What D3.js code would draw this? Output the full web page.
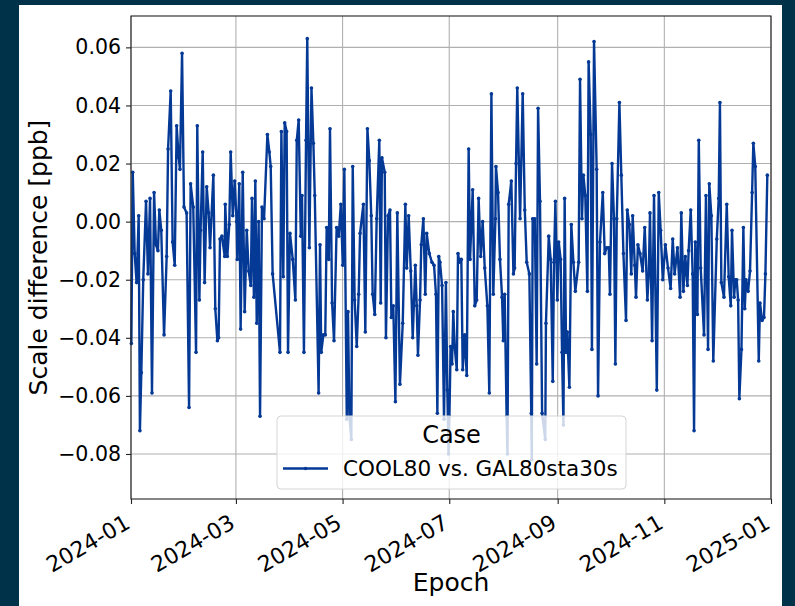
<!DOCTYPE html>
<html>
<head>
<meta charset="utf-8">
<script src="https://cdn.jsdelivr.net/npm/d3@7"></script>
<style>
  body { margin: 0; background: #003349; }
  text { font-family: "DejaVu Sans", sans-serif; fill: #000; }
</style>
</head>
<body>
<div id="chart"></div>
<script>
// data: day of 2024 (from Jan 1) and scale difference [ppb]
var epoch_days = [
    0.2, 1.0, 2.1, 3.2, 4.4, 5.1, 5.9, 7.0, 8.6, 9.7, 10.9, 12.0, 13.2, 14.3, 15.4, 16.2, 17.3, 18.9, 20.4, 21.2,
    22.7, 23.8, 25.0, 26.1, 27.3, 28.0, 29.2, 30.3, 31.8, 33.2, 34.1, 35.6, 37.2, 37.9, 39.1, 39.8, 41.0, 42.1, 43.3, 44.4,
    45.2, 47.1, 48.2, 49.4, 50.1, 50.9, 52.0, 53.6, 53.9, 55.1, 56.2, 57.0, 58.2, 59.3, 60.4,
    60.8, 61.9, 62.7, 63.9, 65.0, 66.2, 67.3, 68.5, 69.2, 70.3, 71.1, 71.9, 73.0, 73.8, 74.9, 76.1, 78.0, 79.1, 79.9, 81.0,
    85.2, 86.0, 87.1, 87.9, 89.0, 89.8, 90.9, 92.5, 94.0, 94.8, 95.9, 97.1, 97.8, 98.9, 100.1, 100.8, 102.0, 103.2, 104.3, 105.1,
    107.3, 108.1, 108.8, 110.0, 111.1, 111.9, 113.1, 113.8, 115.0, 116.1, 117.6, 118.8, 120.0, 121.1, 122.0,
    123.4, 124.1, 124.9, 126.0, 126.8, 127.9, 129.1, 130.2, 131.0, 132.9, 134.0, 135.2, 136.3, 137.4, 138.2, 139.4, 140.5, 142.0, 142.8, 143.5,
    145.1, 145.8, 147.0, 148.1, 148.9, 150.0, 151.2, 152.3, 153.8, 155.4, 156.9, 157.7, 158.8, 160.0, 161.1, 162.6, 163.4, 164.1, 165.3, 166.0,
    167.2, 168.3, 169.1, 170.6, 172.1, 173.3, 174.4, 175.2, 176.0, 176.7, 177.9, 179.0, 180.1, 180.9, 181.6,
    182.1, 182.8, 183.6, 184.3, 185.1, 186.3, 187.0, 187.8, 188.9, 189.7, 190.8, 192.0, 193.1, 193.9, 195.4, 196.6, 197.7, 198.8, 200.0, 201.1,
    202.3, 203.8, 204.9, 206.1, 207.2, 208.4, 208.7, 209.9, 211.0, 212.2, 212.9, 213.7, 214.8, 215.3, 216.0, 217.5, 218.7, 219.4, 220.2, 220.9,
    222.5, 224.0, 225.2, 226.3, 227.8, 228.9, 229.2, 229.7, 230.9, 232.0, 232.8, 233.9, 235.1, 236.9, 237.3, 238.9, 240.0, 241.2, 241.9, 242.7,
    243.8, 244.6, 245.7, 246.5, 247.3, 248.0, 248.8, 249.5, 250.7, 251.8, 253.0, 254.1, 256.0, 256.8, 257.9, 258.7, 259.8, 261.0, 261.7, 262.9,
    263.6, 264.8, 266.3, 267.1, 268.2, 269.8, 270.9, 272.0, 273.2, 273.9, 275.1, 276.2, 277.0, 277.8, 279.3, 280.4, 281.6, 283.1, 283.8, 285.0,
    286.1, 286.9, 288.1, 288.8, 289.9, 291.1, 292.6, 293.8, 295.3, 296.1, 296.8, 298.0, 299.1, 300.7, 301.8, 302.9,
    304.1, 305.6, 307.1, 308.6, 309.8, 310.9, 312.5, 314.0, 314.7, 315.9, 317.0, 318.2, 318.9, 320.1, 321.2, 322.0, 322.7, 323.9, 324.7, 325.8,
    327.7, 328.8, 330.0, 330.7, 331.9, 333.0, 335.0, 336.1, 336.8, 337.6, 339.1, 340.7, 341.8, 343.0, 343.7, 344.9, 345.6, 346.4, 347.2, 347.9,
    349.1, 350.2, 351.0, 351.7, 352.9, 354.0, 355.2, 355.9, 357.0, 359.0, 359.7, 360.9, 362.0, 362.8, 363.9
]
var scale_diff = [
    -0.042, 0.017, -0.011, -0.021, 0.002, -0.072, -0.052, -0.020, 0.007, -0.018, 0.008, -0.059, 0.010, -0.008, -0.010, 0.004, -0.003, -0.039, -0.012, 0.025,
    0.045, -0.007, -0.015, 0.033, 0.022, 0.018, 0.058, 0.005, 0.003, -0.064, 0.013, 0.005, -0.045, 0.033, -0.027, -0.003, 0.024, -0.021, 0.012, 0.003,
    -0.009, 0.016, -0.030, -0.041, -0.040, -0.006, -0.005, -0.012, 0.006, -0.012, -0.001, 0.024, 0.002, 0.014, 0.000,
    -0.013, 0.013, -0.037, 0.017, -0.031, -0.003, -0.017, -0.022, 0.008, -0.026, 0.014, -0.035, 0.000, -0.067, 0.005, 0.001, 0.030, 0.024, 0.019, -0.018,
    -0.045, 0.031, -0.019, 0.034, 0.031, -0.045, -0.004, -0.013, -0.027, 0.028, 0.035, -0.005, 0.009, -0.045, 0.028, 0.063, -0.009, 0.046, 0.027, 0.009,
    -0.059, -0.008, -0.045, -0.039, -0.039, -0.002, -0.013, 0.032, -0.028, -0.041, -0.002, -0.005, 0.006, -0.015, 0.018,
    -0.068, -0.031, -0.067, -0.075, 0.019, -0.027, -0.043, -0.025, -0.004, 0.006, -0.038, 0.032, 0.021, 0.002, -0.025, -0.032, 0.001, 0.028, -0.028, 0.022,
    0.017, -0.040, 0.002, 0.004, -0.033, -0.029, -0.062, 0.003, -0.056, -0.035, 0.006, -0.016, 0.002, -0.017, -0.040, -0.015, -0.029, -0.046, -0.027, -0.008,
    0.001, -0.025, -0.004, -0.011, -0.014, -0.015, -0.025, -0.066, -0.012, -0.014, -0.022, -0.068, -0.021, -0.058, -0.080,
    -0.067, -0.043, -0.049, -0.031, -0.043, -0.051, -0.011, -0.014, -0.013, -0.051, -0.039, -0.053, 0.025, -0.013, 0.011, -0.029, -0.027, 0.008, -0.012, 0.000,
    -0.016, -0.029, -0.059, 0.044, -0.025, 0.001, 0.019, 0.010, -0.013, -0.026, -0.041, -0.025, -0.067, -0.080, 0.006, 0.014, -0.018, -0.016, 0.020, 0.046,
    0.001, 0.044, 0.004, -0.014, -0.018, -0.066, -0.082, 0.001, 0.001, -0.049, 0.039, 0.007, -0.066, -0.075, -0.035, -0.005, -0.013, -0.055, -0.014, 0.007,
    -0.027, -0.007, -0.013, -0.045, -0.070, 0.008, -0.045, -0.038, -0.057, -0.001, -0.014, -0.024, -0.014, 0.049, 0.001, 0.016, 0.009, -0.024, 0.055, 0.030,
    -0.044, 0.062, 0.018, -0.060, -0.007, 0.010, -0.011, -0.009, -0.009, -0.025, 0.020, 0.001, -0.049, 0.001, 0.041, 0.016, -0.011, -0.034, 0.004, -0.001,
    -0.018, 0.002, -0.015, -0.026, -0.008, -0.011, -0.017, -0.002, -0.027, -0.018, 0.003, -0.041, 0.009, -0.058, 0.010, -0.003,
    -0.020, -0.008, -0.016, -0.023, -0.006, -0.018, -0.009, -0.026, 0.003, -0.024, -0.012, -0.022, -0.010, 0.004, -0.018, -0.072, -0.007, -0.032, 0.028, -0.016,
    -0.039, 0.009, -0.044, 0.013, 0.002, -0.048, -0.006, 0.008, 0.041, -0.021, -0.026, 0.006, -0.019, -0.029, -0.003, -0.026, -0.020, -0.020, -0.027, -0.061,
    -0.044, -0.002, -0.030, -0.020, -0.024, -0.017, 0.010, 0.027, 0.019, -0.048, -0.028, -0.034, -0.033, -0.018, 0.016
]
var x_ticks = ['2024-01-01', '2024-03-01', '2024-05-01', '2024-07-01', '2024-09-01', '2024-11-01', '2025-01-01']
var y_ticks = [-0.08, -0.06, -0.04, -0.02, 0.00, 0.02, 0.04, 0.06]
var series_name = 'COOL80 vs. GAL80sta30s'
var line_color = '#053996'

var fig_width = 795, fig_height = 606
var plot_left = 131, plot_right = 771, plot_top = 16, plot_bottom = 499
var start_ms = Date.UTC(2024, 0, 1)

var points = epoch_days.map((d, i) => ({ date: new Date(start_ms + d * 86400000), value: scale_diff[i] }))

var x = d3.scaleUtc()
    .domain([new Date(start_ms), new Date(Date.UTC(2025, 0, 1))])
    .range([plot_left, plot_right])
var y = d3.scaleLinear()
    .domain([-0.0955, 0.0708])
    .range([plot_bottom, plot_top])

var svg = d3.select('#chart')
    .append('svg')
    .attr('width', fig_width)
    .attr('height', fig_height)

svg.append('rect').attr('width', fig_width).attr('height', fig_height).attr('fill', '#003349')
svg.append('rect').attr('x', 19).attr('y', 5).attr('width', 763).attr('height', 601).attr('fill', '#fff')

// grid
var x_dates = x_ticks.map(s => new Date(s + 'T00:00:00Z'))
svg.append('g')
    .selectAll('line')
    .data(x_dates)
    .enter()
    .append('line')
    .attr('x1', d => x(d)).attr('x2', d => x(d))
    .attr('y1', plot_top).attr('y2', plot_bottom)
    .attr('stroke', '#b0b0b0').attr('stroke-width', 1.1)
svg.append('g')
    .selectAll('line')
    .data(y_ticks)
    .enter()
    .append('line')
    .attr('x1', plot_left).attr('x2', plot_right)
    .attr('y1', d => y(d)).attr('y2', d => y(d))
    .attr('stroke', '#b0b0b0').attr('stroke-width', 1.1)

// series
var line = d3.line().x(d => x(d.date)).y(d => y(d.value))
svg.append('path')
    .datum(points)
    .attr('d', line)
    .attr('fill', 'none')
    .attr('stroke', line_color)
    .attr('stroke-width', 2.4)
    .attr('stroke-linejoin', 'round')
svg.append('g')
    .selectAll('circle')
    .data(points)
    .enter()
    .append('circle')
    .attr('cx', d => x(d.date))
    .attr('cy', d => y(d.value))
    .attr('r', 1.8)
    .attr('fill', line_color)

// axes
var x_axis = d3.axisBottom(x)
    .tickValues(x_dates)
    .tickFormat(d3.utcFormat('%Y-%m'))
    .tickSize(5)
    .tickPadding(4)
var gx = svg.append('g')
    .attr('transform', `translate(0,${plot_bottom})`)
    .call(x_axis)
gx.select('.domain').remove()
gx.selectAll('.tick line').attr('stroke', '#222').attr('stroke-width', 1.1)
gx.selectAll('.tick text')
    .attr('font-size', 22)
    .attr('text-anchor', 'end')
    .attr('dy', null)
    .attr('y', 0)
    .attr('transform', 'translate(0,28) rotate(-30)')

var y_axis = d3.axisLeft(y)
    .tickValues(y_ticks)
    .tickFormat(d3.format('.2f'))
    .tickSize(5)
    .tickPadding(5)
var gy = svg.append('g')
    .attr('transform', `translate(${plot_left},0)`)
    .call(y_axis)
gy.select('.domain').remove()
gy.selectAll('.tick line').attr('stroke', '#222').attr('stroke-width', 1.1)
gy.selectAll('.tick text').attr('font-size', 20.5)

// frame
svg.append('rect')
    .attr('x', plot_left).attr('y', plot_top)
    .attr('width', plot_right - plot_left).attr('height', plot_bottom - plot_top)
    .attr('fill', 'none')
    .attr('stroke', '#222').attr('stroke-width', 1.1)

// labels
svg.append('text')
    .attr('x', (plot_left + plot_right) / 2).attr('y', 591)
    .attr('text-anchor', 'middle')
    .attr('font-size', 25)
    .text('Epoch')
svg.append('text')
    .attr('transform', `translate(47,${(plot_top + plot_bottom) / 2}) rotate(-90)`)
    .attr('text-anchor', 'middle')
    .attr('font-size', 25)
    .text('Scale difference [ppb]')

// legend
var legend = svg.append('g').attr('transform', 'translate(277,416)')
legend.append('rect')
    .attr('width', 349).attr('height', 73)
    .attr('rx', 4)
    .attr('fill', '#fff').attr('fill-opacity', 0.8)
    .attr('stroke', '#d5d5d5').attr('stroke-width', 1)
legend.append('text')
    .attr('x', 174.5).attr('y', 27)
    .attr('text-anchor', 'middle')
    .attr('font-size', 24)
    .text('Case')
legend.append('line')
    .attr('x1', 6).attr('x2', 51)
    .attr('y1', 52.5).attr('y2', 52.5)
    .attr('stroke', line_color).attr('stroke-width', 2.4)
legend.append('circle')
    .attr('cx', 28.5).attr('cy', 52.5).attr('r', 1.8)
    .attr('fill', line_color)
legend.append('text')
    .attr('x', 66).attr('y', 60)
    .attr('font-size', 21.5)
    .text(series_name)
</script>
</body>
</html>
